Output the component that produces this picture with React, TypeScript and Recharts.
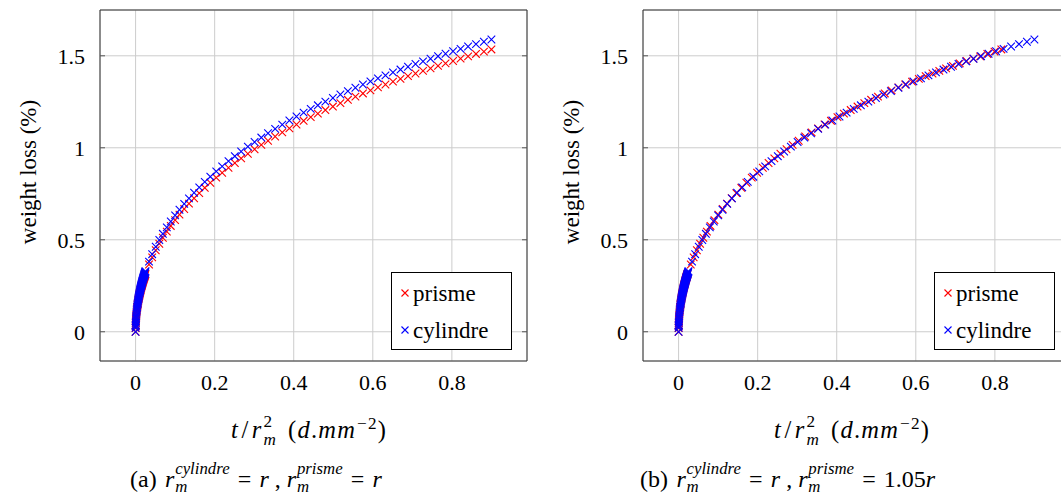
import React from 'react';
import { ScatterChart, Scatter, XAxis, YAxis, CartesianGrid, Legend } from 'recharts';

const SERIF = '"Liberation Serif", "Times New Roman", serif';

const xTicks = [0, 0.2, 0.4, 0.6, 0.8];
const yTicks = [0, 0.5, 1, 1.5];
const seriesOrder = ['prisme', 'cylindre'];

// t / r_m^2 for each sample (cylindre, and prisme when r_m = r)
const tRatio = [
  0, 0.0001, 0.0002, 0.0003, 0.0005, 0.0007, 0.001, 0.0013, 0.0016,
  0.002, 0.0025, 0.003, 0.0035, 0.004, 0.0045, 0.005, 0.0055, 0.006, 0.0065, 0.007, 0.0075, 0.008,
  0.0085, 0.009, 0.0095, 0.01, 0.0105, 0.011, 0.0115, 0.012, 0.0125, 0.013, 0.0135, 0.014, 0.0145,
  0.015, 0.0155, 0.016, 0.0165, 0.017, 0.0175, 0.018, 0.0185, 0.019, 0.0195, 0.02, 0.0205, 0.021,
  0.0215, 0.022, 0.0225, 0.023, 0.0235, 0.024, 0.0245, 0.025,
  0.034, 0.042, 0.051, 0.06, 0.069, 0.079, 0.089, 0.1, 0.111, 0.123, 0.135, 0.148, 0.161, 0.175, 0.189,
  0.204, 0.219, 0.235, 0.251, 0.267, 0.284, 0.301, 0.318, 0.335, 0.353, 0.371, 0.389, 0.407, 0.425,
  0.443, 0.461, 0.48, 0.499, 0.518, 0.537, 0.556, 0.575, 0.594, 0.613, 0.632, 0.651, 0.67, 0.689,
  0.708, 0.727, 0.746, 0.765, 0.784, 0.803, 0.822, 0.841, 0.861, 0.881, 0.9,
];

// t / r_m^2 for prisme when r_m = 1.05r
const tRatioPrismeB = [
  0, 0.00009, 0.00018, 0.00027, 0.00045, 0.00063, 0.00091, 0.00118, 0.00145,
  0.00181, 0.00227, 0.00272, 0.00317, 0.00363, 0.00408, 0.00454, 0.00499, 0.00544, 0.0059, 0.00635,
  0.0068, 0.00726, 0.00771, 0.00816, 0.00862, 0.00907, 0.00952, 0.00998, 0.01043, 0.01088, 0.01134,
  0.01179, 0.01224, 0.0127, 0.01315, 0.01361, 0.01406, 0.01451, 0.01497, 0.01542, 0.01587, 0.01633,
  0.01678, 0.01723, 0.01769, 0.01814, 0.01859, 0.01905, 0.0195, 0.01995, 0.02041, 0.02086, 0.02132,
  0.02177, 0.02222, 0.02268,
  0.03084, 0.0381, 0.04626, 0.05442, 0.06259, 0.07166, 0.08073, 0.0907, 0.10068, 0.11156, 0.12245,
  0.13424, 0.14603, 0.15873, 0.17143, 0.18503, 0.19864, 0.21315, 0.22766, 0.24218, 0.2576, 0.27302,
  0.28844, 0.30385, 0.32018, 0.33651, 0.35283, 0.36916, 0.38549, 0.40181, 0.41814, 0.43537, 0.45261,
  0.46984, 0.48707, 0.50431, 0.52154, 0.53878, 0.55601, 0.57324, 0.59048, 0.60771, 0.62494, 0.64218,
  0.65941, 0.67664, 0.69388, 0.71111, 0.72834, 0.74558, 0.76281, 0.78095, 0.79909, 0.81633,
];

// weight loss (%)
const cylindreLoss = [
  0, 0.0216, 0.0305, 0.0373, 0.0481, 0.0568, 0.0679, 0.0773, 0.0857,
  0.0957, 0.1068, 0.1169, 0.1261, 0.1347, 0.1427, 0.1503, 0.1575, 0.1644, 0.171, 0.1773, 0.1834,
  0.1893, 0.195, 0.2005, 0.2058, 0.2111, 0.2161, 0.2211, 0.2259, 0.2307, 0.2353, 0.2398, 0.2443,
  0.2486, 0.2529, 0.2571, 0.2612, 0.2653, 0.2692, 0.2732, 0.277, 0.2808, 0.2846, 0.2882, 0.2919,
  0.2955, 0.299, 0.3025, 0.306, 0.3094, 0.3127, 0.3161, 0.3194, 0.3226, 0.3258, 0.329,
  0.3812, 0.4215, 0.462, 0.4987, 0.5324, 0.5671, 0.5992, 0.6323, 0.6633, 0.695, 0.725, 0.7557, 0.7847,
  0.8145, 0.8428, 0.8716, 0.8992, 0.9273, 0.9542, 0.9799, 1.0062, 1.0314, 1.0557, 1.0792, 1.1031,
  1.1262, 1.1485, 1.1701, 1.191, 1.2113, 1.231, 1.2512, 1.2707, 1.2898, 1.3083, 1.3263, 1.3439, 1.361,
  1.3776, 1.3939, 1.4098, 1.4253, 1.4404, 1.4553, 1.4697, 1.4839, 1.4978, 1.5113, 1.5246, 1.5377,
  1.5504, 1.5636, 1.5765, 1.5885,
];

const prismeLoss = [
  0, 0.0207, 0.0292, 0.0357, 0.046, 0.0544, 0.065, 0.074, 0.082,
  0.0916, 0.1023, 0.112, 0.1208, 0.129, 0.1367, 0.144, 0.1509, 0.1575, 0.1638, 0.1699, 0.1757,
  0.1813, 0.1868, 0.1921, 0.1972, 0.2022, 0.2071, 0.2119, 0.2165, 0.221, 0.2255, 0.2298, 0.2341,
  0.2383, 0.2423, 0.2464, 0.2503, 0.2542, 0.258, 0.2618, 0.2655, 0.2691, 0.2727, 0.2763, 0.2798,
  0.2832, 0.2866, 0.29, 0.2933, 0.2965, 0.2998, 0.303, 0.3061, 0.3092, 0.3123, 0.3154,
  0.3655, 0.4042, 0.4431, 0.4784, 0.5108, 0.5441, 0.5751, 0.6069, 0.6367, 0.6673, 0.6962, 0.7258,
  0.7538, 0.7825, 0.8098, 0.8376, 0.8642, 0.8914, 0.9173, 0.9423, 0.9677, 0.9921, 1.0156, 1.0383,
  1.0615, 1.0839, 1.1055, 1.1265, 1.1467, 1.1664, 1.1856, 1.2052, 1.2242, 1.2427, 1.2608, 1.2783,
  1.2954, 1.312, 1.3283, 1.3442, 1.3596, 1.3748, 1.3896, 1.404, 1.4182, 1.432, 1.4456, 1.4589, 1.4719,
  1.4847, 1.4972, 1.5101, 1.5227, 1.5345,
];

const toPoints = (xs: number[], ys: number[]) => xs.map((x, i) => ({ x, y: ys[i] }));

const Cross = (props: any) => {
  const { cx, cy, fill } = props;
  if (cx == null || cy == null) return null;
  const h = 3.8;
  return (
    <path
      d={`M${cx - h},${cy - h}L${cx + h},${cy + h}M${cx - h},${cy + h}L${cx + h},${cy - h}`}
      stroke={fill}
      strokeWidth={1.1}
      fill="none"
    />
  );
};

const NoTick = () => <g />;

const LegendBox = (props: any) => {
  const items = [...(props.payload || [])].sort(
    (a: any, b: any) => seriesOrder.indexOf(a.value) - seriesOrder.indexOf(b.value),
  );
  return (
    <div
      style={{
        width: 119,
        height: 76,
        border: '1px solid #000',
        background: '#fff',
        fontFamily: SERIF,
        fontSize: 23,
        color: '#000',
      }}
    >
      {items.map((it: any) => (
        <div key={it.value} style={{ display: 'flex', alignItems: 'center', height: 34, paddingLeft: 6, marginTop: 3 }}>
          <svg width={14} height={14} style={{ marginRight: 1 }}>
            <path d="M3.5,3.5L10.5,10.5M3.5,10.5L10.5,3.5" stroke={it.color} strokeWidth={1.1} />
          </svg>
          <span style={{ lineHeight: 1 }}>{it.value}</span>
        </div>
      ))}
    </div>
  );
};

// r with subscript m and a stacked superscript, built as plain text spans
const Rm = ({ sup, drop = 0.42 }: { sup: React.ReactNode; drop?: number }) => (
  <span>
    <i>r</i>
    <span
      style={{
        display: 'inline-block',
        verticalAlign: `-${drop}em`,
        fontSize: '0.7em',
        lineHeight: '1.15em',
        textAlign: 'left',
        marginLeft: '0.05em',
      }}
    >
      <span style={{ display: 'block', marginBottom: '-0.1em' }}>{sup}</span>
      <span style={{ display: 'block' }}>
        <i>m</i>
      </span>
    </span>
  </span>
);

const Eq = () => <span style={{ margin: '0 0.34em' }}>=</span>;

const XLabel = () => (
  <span style={{ letterSpacing: '0.05em' }}>
    <i>t</i>
    <span style={{ margin: '0 0.1em' }}>/</span>
    <Rm sup="2" />
    <span style={{ marginLeft: '0.45em' }}>(</span>
    <i>d</i>.<i>mm</i>
    <sup style={{ fontSize: '0.7em', marginLeft: '0.05em' }}>−2</sup>)
  </span>
);

const frame = '#333';
const tickColor = '#555';

const Panel = ({
  prismeX,
  tag,
  prismeR,
  captionLeft,
}: {
  prismeX: number[];
  tag: string;
  prismeR: React.ReactNode;
  captionLeft: number;
}) => {
  const prisme = toPoints(prismeX, prismeLoss);
  const cylindre = toPoints(tRatio, cylindreLoss);
  const tickStyle = { fontSize: 22, fill: '#000', fontFamily: SERIF };
  const textStyle: React.CSSProperties = {
    position: 'absolute',
    whiteSpace: 'nowrap',
    fontFamily: SERIF,
    fontSize: 23,
    color: '#000',
  };
  return (
    <div style={{ position: 'relative', width: 540, height: 497 }}>
      <ScatterChart width={540} height={400} margin={{ top: 10, right: 13, bottom: 0, left: 0 }}>
        <CartesianGrid stroke="#cccccc" strokeWidth={1} />
        <XAxis
          type="number"
          dataKey="x"
          domain={[-0.09, 0.99]}
          ticks={xTicks}
          interval={0}
          allowDataOverflow
          height={39}
          tickLine={false}
          tickSize={0}
          tickMargin={13}
          axisLine={{ stroke: frame }}
          tick={tickStyle}
        />
        <XAxis xAxisId="bt" type="number" domain={[-0.09, 0.99]} ticks={xTicks} interval={0} allowDataOverflow orientation="bottom" mirror tickSize={5} tickLine={{ stroke: tickColor }} axisLine={false} tick={NoTick} />
        <XAxis xAxisId="tp" type="number" domain={[-0.09, 0.99]} ticks={xTicks} interval={0} allowDataOverflow orientation="top" mirror tickSize={5} tickLine={{ stroke: tickColor }} axisLine={{ stroke: frame }} tick={NoTick} />
        <YAxis
          type="number"
          dataKey="y"
          domain={[-0.159, 1.749]}
          ticks={yTicks}
          interval={0}
          allowDataOverflow
          width={100}
          tickLine={false}
          tickSize={0}
          tickMargin={15}
          axisLine={{ stroke: frame }}
          tick={tickStyle}
        />
        <YAxis yAxisId="lf" type="number" domain={[-0.159, 1.749]} ticks={yTicks} interval={0} allowDataOverflow orientation="left" mirror tickSize={5} tickLine={{ stroke: tickColor }} axisLine={false} tick={NoTick} />
        <YAxis yAxisId="rt" type="number" domain={[-0.159, 1.749]} ticks={yTicks} interval={0} allowDataOverflow orientation="right" mirror tickSize={5} tickLine={{ stroke: tickColor }} axisLine={{ stroke: frame }} tick={NoTick} />
        <Scatter name="prisme" data={prisme} fill="#ff0000" shape={Cross} isAnimationActive={false} />
        <Scatter name="cylindre" data={cylindre} fill="#0000ff" shape={Cross} isAnimationActive={false} />
        <Legend
          layout="horizontal"
          verticalAlign="middle"
          align="center"
          content={LegendBox}
          wrapperStyle={{ left: 391, top: 272, width: 121, height: 78 }}
        />
      </ScatterChart>
      <div style={{ ...textStyle, left: 29, top: 172, transform: 'translate(-50%, -50%) rotate(-90deg)' }}>
        weight loss (%)
      </div>
      <div style={{ ...textStyle, fontSize: 24.5, left: 309, top: 431, transform: 'translate(-50%, -50%)' }}>
        <XLabel />
      </div>
      <div
        style={{
          ...textStyle,
          fontSize: 24,
          lineHeight: '30px',
          left: captionLeft,
          top: 459,
        }}
      >
        ({tag})<span style={{ marginLeft: '0.35em' }} />
        <Rm sup={<i>cylindre</i>} drop={0.3} />
        <Eq />
        <i>r</i> , <Rm sup={<i>prisme</i>} drop={0.3} />
        <Eq />
        {prismeR}
      </div>
    </div>
  );
};

export default function App() {
  return (
    <div
      style={{
        position: 'fixed',
        left: 0,
        top: 0,
        width: 1061,
        height: 497,
        overflow: 'hidden',
        background: '#fff',
      }}
    >
      <div style={{ position: 'absolute', left: 0, top: 0 }}>
        <Panel prismeX={tRatio} tag="a" prismeR={<i>r</i>} captionLeft={130} />
      </div>
      <div style={{ position: 'absolute', left: 543, top: 0 }}>
        <Panel
          prismeX={tRatioPrismeB}
          tag="b"
          prismeR={
            <span>
              1.05<i>r</i>
            </span>
          }
          captionLeft={97}
        />
      </div>
    </div>
  );
}
